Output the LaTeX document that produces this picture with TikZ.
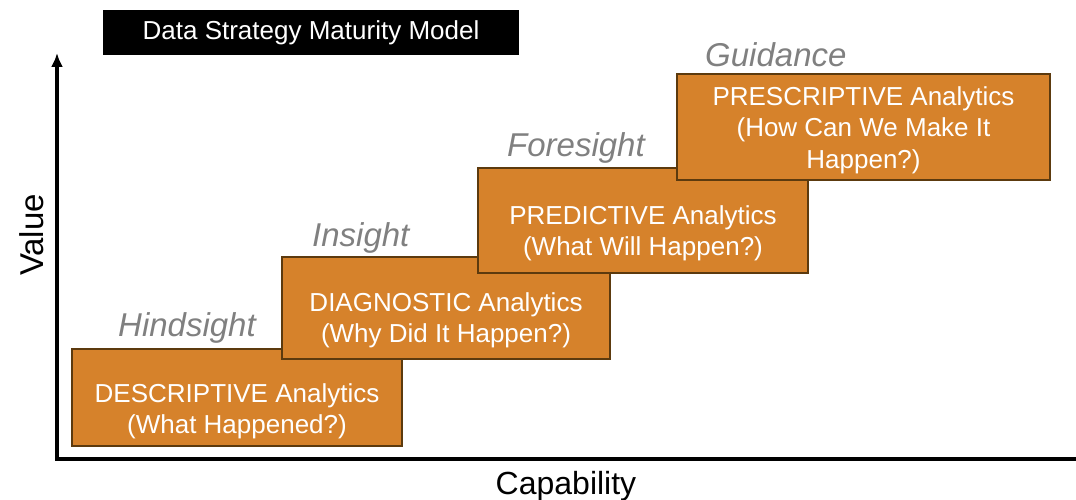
\documentclass[tikz,border=0pt]{standalone}
\usepackage{fontspec}
\setmainfont{Liberation Sans}
\usepackage{tikz}
\usetikzlibrary{positioning,calc,arrows.meta}
\definecolor{stageorange}{RGB}{214,130,43}
\definecolor{stageedge}{RGB}{92,58,14}
\definecolor{hintgray}{RGB}{128,128,128}
\tikzstyle{stage} = [draw=stageedge, fill=stageorange, line width=1.5pt, rectangle, inner sep=0pt]
\tikzstyle{stagetext} = [text=white, align=center, inner sep=0pt, font=\fontsize{26}{31}\selectfont]
\tikzstyle{hint} = [text=hintgray, anchor=base west, inner sep=0pt, font=\fontsize{33}{40}\selectfont\itshape]
\tikzstyle{axislabel} = [anchor=base, inner sep=0pt, font=\fontsize{33}{40}\selectfont]
\tikzstyle{to} = [-{Latex[length=14pt,width=12pt]}, line width=4pt]

\begin{document}
\begin{tikzpicture}[x=1pt, y=1pt]
	\useasboundingbox (0,0) rectangle (1076,500);
	\node (title) [fill=black, text=white, minimum width=416pt, minimum height=45pt, inner sep=0pt, font=\fontsize{26}{30}\selectfont] at (311,467.5) {Data Strategy Maturity Model};
	\coordinate (o) at (57,41);
	\coordinate (ytop) at (57,447);
	\coordinate (xend) at (1076,41);
	\draw [to] (xend) -- (o) -- (ytop);
	\node (value) [axislabel, rotate=90] at (43,265) {Value};
	\node (cap) [axislabel, font=\fontsize{32}{38}\selectfont] at (566,5) {Capability};
	\node (desc) [stage, minimum width=330pt, minimum height=97pt] at (237,102.5) {};
	\node (desctext) [stagetext] at ([yshift=-13.5pt]desc.center) {DESCRIPTIVE Analytics\\(What Happened?)};
	\node (diag) [stage, minimum width=328pt, minimum height=102pt] at (446,192) {};
	\node (diagtext) [stagetext] at ([yshift=-12.5pt]diag.center) {DIAGNOSTIC Analytics\\(Why Did It Happen?)};
	\node (pred) [stage, minimum width=330pt, minimum height=105pt] at (643,279.5) {};
	\node (predtext) [stagetext] at ([yshift=-13pt]pred.center) {PREDICTIVE Analytics\\(What Will Happen?)};
	\node (presc) [stage, minimum width=373pt, minimum height=106pt] at (863.5,373) {};
	\node (presctext) [stagetext, font=\fontsize{26}{31.5}\selectfont] at ([yshift=-3pt]presc.center) {PRESCRIPTIVE Analytics\\(How Can We Make It\\Happen?)};
	\node (hind) [hint] at (118,163) {Hindsight};
	\node (ins) [hint] at (312,253) {Insight};
	\node (fore) [hint] at (507,343) {Foresight};
	\node (guid) [hint] at (705,433) {Guidance};
\end{tikzpicture}
\end{document}
